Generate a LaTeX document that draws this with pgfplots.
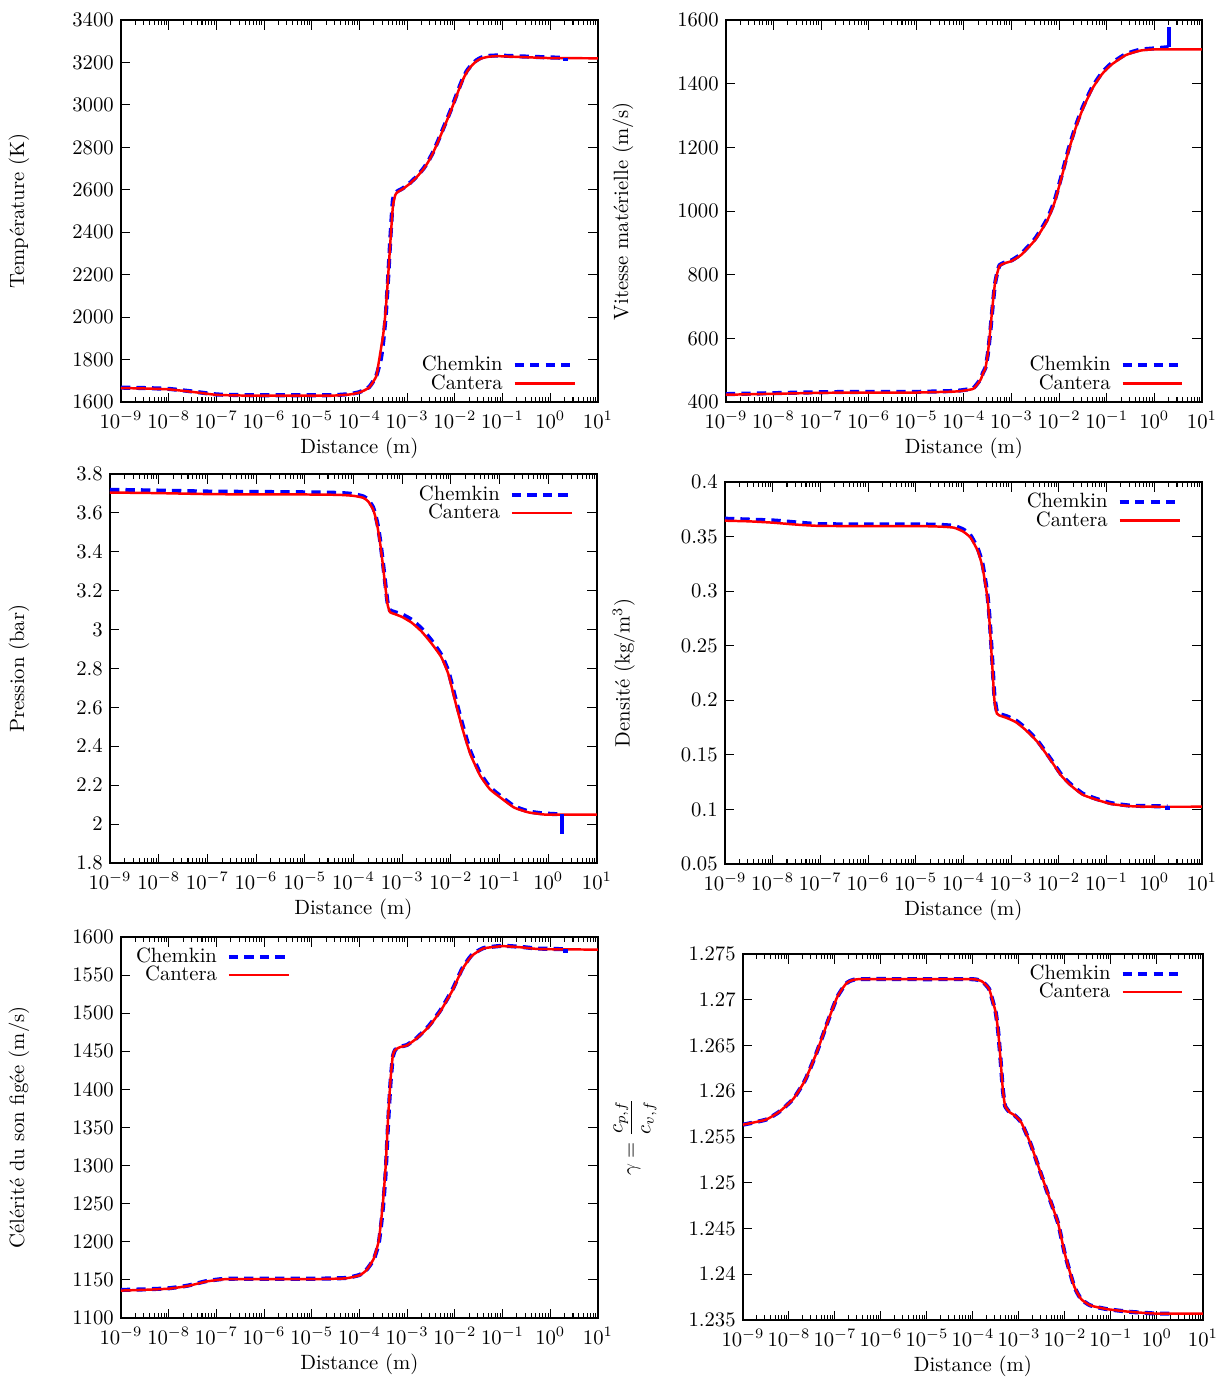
\documentclass[border=0pt]{standalone}
\usepackage{fontspec}
\usepackage{pgfplots}
\usepackage{pgfplotstable}
\pgfplotsset{compat=1.18}

% ---------- Temperature ----------
\pgfplotstableread{
lx v
-9 1668
-8.5 1666
-8 1662
-7.5 1650
-7 1636
-6.5 1633
-6 1632
-5 1632
-4.5 1633
-4.2 1638
-4.0 1647
-3.8 1670
-3.65 1722
-3.55 1805
-3.5 1890
-3.45 2005
-3.4 2180
-3.35 2380
-3.3 2550
-3.25 2585
-3.2 2594
-3.1 2606
-2.95 2631
-2.8 2663
-2.65 2703
-2.55 2738
-2.45 2781
-2.35 2832
-2.25 2886
-2.15 2940
-2.05 2996
-1.95 3057
-1.85 3115
-1.75 3160
-1.65 3189
-1.55 3210
-1.45 3223
-1.3 3231
-1.1 3233
-0.5 3228
0 3224
0.32 3222
}\TCh
\pgfplotstableread{
lx v
-9 1666
-8.5 1664
-8 1660
-7.5 1648
-7 1634
-6.5 1631
-6 1630
-5 1630
-4.5 1631
-4.2 1636
-4.0 1645
-3.8 1668
-3.65 1720
-3.6 1781
-3.5 1922
-3.45 2032
-3.4 2190
-3.35 2362
-3.3 2520
-3.25 2575
-3.2 2590
-3.1 2603
-2.95 2628
-2.8 2660
-2.65 2700
-2.55 2735
-2.45 2778
-2.35 2828
-2.25 2882
-2.15 2936
-2.05 2992
-1.95 3052
-1.85 3110
-1.75 3155
-1.65 3185
-1.55 3206
-1.45 3219
-1.3 3227
-1.1 3230
-0.5 3225
0 3221
1 3220
}\TCa
% ---------- Velocity ----------
\pgfplotstableread{
lx v
-9 425
-8 428
-7 431
-6 432
-5 432
-4.2 435
-4.0 438
-3.8 444
-3.65 472
-3.6 492
-3.55 507
-3.5 548
-3.45 615
-3.4 695
-3.35 768
-3.3 806
-3.25 830
-3.15 838
-3.0 845
-2.8 865
-2.5 914
-2.25 975
-2.1 1030
-1.95 1110
-1.8 1195
-1.65 1267
-1.5 1327
-1.3 1390
-1.1 1434
-0.9 1464
-0.6 1493
-0.3 1507
0 1511
0.3 1515
}\VCh
\pgfplotstableread{
lx v
-9 423
-8 426
-7 429
-6 430
-5 430
-4.2 433
-4.0 436
-3.8 442
-3.65 470
-3.6 490
-3.55 505
-3.5 550
-3.45 620
-3.4 700
-3.35 770
-3.3 805
-3.25 828
-3.15 836
-3.0 843
-2.8 862
-2.5 910
-2.25 970
-2.1 1025
-1.95 1105
-1.8 1190
-1.65 1262
-1.5 1322
-1.3 1385
-1.1 1430
-0.9 1460
-0.6 1490
-0.3 1504
0 1508
1 1508
}\VCa
% ---------- Pressure ----------
\pgfplotstableread{
lx v
-9 3.719
-8 3.715
-7 3.71
-6 3.708
-5 3.706
-4.3 3.703
-4.0 3.697
-3.8 3.685
-3.7 3.668
-3.6 3.63
-3.55 3.59
-3.5 3.535
-3.45 3.455
-3.4 3.355
-3.35 3.245
-3.3 3.14
-3.25 3.1
-3.15 3.09
-3.0 3.078
-2.8 3.05
-2.6 3.005
-2.4 2.945
-2.2 2.872
-2.05 2.785
-1.9 2.64
-1.75 2.5
-1.6 2.375
-1.4 2.262
-1.2 2.19
-1.0 2.148
-0.7 2.092
-0.4 2.065
-0.1 2.055
0.28 2.05
}\PCh
\pgfplotstableread{
lx v
-9 3.705
-8 3.702
-7 3.697
-6 3.695
-5 3.695
-4.3 3.693
-4.0 3.688
-3.8 3.678
-3.7 3.66
-3.6 3.62
-3.55 3.58
-3.5 3.52
-3.45 3.44
-3.4 3.34
-3.35 3.23
-3.3 3.13
-3.25 3.09
-3.15 3.08
-3.0 3.065
-2.8 3.035
-2.6 2.99
-2.4 2.93
-2.2 2.86
-2.05 2.77
-1.9 2.62
-1.75 2.48
-1.6 2.36
-1.4 2.25
-1.2 2.18
-1.0 2.14
-0.7 2.085
-0.4 2.06
-0.1 2.05
0 2.049
1 2.049
}\PCa
% ---------- Density ----------
\pgfplotstableread{
lx v
-9 0.3664
-8 0.3648
-7.5 0.3630
-7 0.3614
-6 0.3612
-5 0.3612
-4.5 0.3608
-4.2 0.3598
-4.0 0.3565
-3.85 0.351
-3.7 0.339
-3.6 0.325
-3.5 0.298
-3.45 0.274
-3.4 0.240
-3.35 0.204
-3.3 0.19
-3.25 0.1875
-3.1 0.1855
-2.9 0.1815
-2.7 0.1745
-2.45 0.163
-2.2 0.148
-1.95 0.132
-1.75 0.123
-1.5 0.1145
-1.2 0.1095
-0.9 0.1058
-0.5 0.1035
0 0.1030
0.28 0.1028
}\DCh
\pgfplotstableread{
lx v
-9 0.3646
-8.5 0.3640
-8 0.3628
-7.5 0.3610
-7 0.3598
-6 0.3597
-5 0.3597
-4.5 0.3592
-4.2 0.3582
-4.0 0.3545
-3.85 0.349
-3.7 0.337
-3.6 0.322
-3.5 0.295
-3.45 0.27
-3.4 0.235
-3.35 0.2
-3.3 0.188
-3.25 0.1862
-3.1 0.184
-2.9 0.180
-2.7 0.173
-2.45 0.162
-2.2 0.147
-1.95 0.131
-1.75 0.122
-1.5 0.1135
-1.2 0.1088
-0.9 0.1050
-0.5 0.1030
0 0.1025
1 0.1025
}\DCa
% ---------- Sound speed ----------
\pgfplotstableread{
lx v
-9 1136.8
-8.5 1137.6
-8 1139
-7.6 1142.5
-7.2 1148.5
-6.8 1151.5
-6 1151.5
-5 1151.5
-4.3 1152.5
-4.0 1156.5
-3.85 1163.5
-3.7 1177
-3.6 1197
-3.55 1220
-3.5 1250
-3.45 1292
-3.4 1355
-3.35 1408
-3.3 1443
-3.25 1452
-3.15 1456
-3.0 1458.5
-2.8 1467.5
-2.55 1483
-2.3 1504
-2.05 1531
-1.85 1558
-1.65 1576
-1.4 1585.5
-1.0 1588.5
-0.6 1587
-0.3 1585
0 1584.5
0.32 1584
}\CCh
\pgfplotstableread{
lx v
-9 1136
-8.5 1137
-8 1138.5
-7.6 1142
-7.2 1148
-6.8 1151
-6 1151
-5 1151
-4.3 1152
-4.0 1156
-3.85 1163
-3.7 1178
-3.6 1200
-3.55 1225
-3.5 1257
-3.45 1300
-3.4 1362
-3.35 1412
-3.3 1445
-3.25 1452
-3.15 1455.5
-3.0 1458
-2.8 1467
-2.55 1482
-2.3 1503
-2.05 1530
-1.85 1557
-1.65 1575
-1.4 1585
-1.0 1588
-0.6 1586.5
-0.3 1584.5
0 1584
1 1583.5
}\CCa
% ---------- Gamma ----------
\pgfplotstableread{
lx v
-9 1.25635
-8.5 1.2569
-8.2 1.2578
-7.9 1.2592
-7.65 1.2612
-7.4 1.2642
-7.15 1.2677
-6.95 1.2703
-6.75 1.2718
-6.5 1.27225
-5 1.27225
-4.0 1.27225
-3.8 1.2720
-3.65 1.2712
-3.55 1.2695
-3.5 1.2685
-3.45 1.2665
-3.4 1.2635
-3.35 1.2602
-3.3 1.2584
-3.2 1.2577
-3.1 1.2574
-2.95 1.2566
-2.75 1.2543
-2.55 1.2514
-2.35 1.2485
-2.15 1.2456
-2.0 1.2422
-1.8 1.2387
-1.65 1.2373
-1.45 1.2366
-1.1 1.2362
-0.6 1.2359
0 1.2357
0.3 1.2357
}\GCh
\pgfplotstableread{
lx v
-9 1.25635
-8.5 1.2569
-8.2 1.2578
-7.9 1.2592
-7.65 1.2612
-7.4 1.2642
-7.15 1.2677
-6.95 1.2703
-6.75 1.2718
-6.5 1.27225
-5 1.27225
-4.0 1.27225
-3.8 1.2720
-3.65 1.2712
-3.55 1.2695
-3.5 1.2685
-3.45 1.2665
-3.4 1.2635
-3.35 1.2602
-3.3 1.2584
-3.2 1.2577
-3.1 1.2574
-2.95 1.2566
-2.75 1.2543
-2.55 1.2514
-2.35 1.2485
-2.15 1.2456
-2.0 1.2422
-1.8 1.2387
-1.65 1.2373
-1.45 1.2366
-1.1 1.2362
-0.6 1.2359
0 1.2357
1 1.2357
}\GCa

\pgfplotsset{
  panelstyle/.style={
    xmin=1e-9, xmax=10, xtickten={-9,-8,...,1},
    scale only axis, anchor=south west,
    tick align=inside,
    major tick length=4.6pt, minor tick length=2.4pt,
    tick style={black, line width=0.5pt},
    axis line style={line width=0.9pt},
    scaled y ticks=false,
    yticklabel style={/pgf/number format/fixed, /pgf/number format/precision=3, /pgf/number format/1000 sep={}},
    xticklabel style={yshift=-1pt},
    xlabel={Distance (m)},
    xlabel style={at={(rel axis cs:0.5,0)}, anchor=center, yshift=-22.3pt},
    ylabel style={at={(rel axis cs:0,0.5)}, anchor=center},
    legend plot pos=right,
    legend cell align=right,
    legend style={draw=none, fill=none, nodes={inner sep=1pt}, column sep=3.8pt, row sep=-1.6pt},
  },
  chem/.style={blue, line width=2pt, dash pattern=on 4.5pt off 3pt, smooth, tension=0.3},
  cant/.style={red, line width=1.2pt, smooth, tension=0.3},
  spike/.style={blue, line width=2pt, forget plot},
}

\begin{document}
\begin{tikzpicture}
\useasboundingbox (0,0) rectangle (591.4pt,667pt);
% Panel 1
\begin{semilogxaxis}[panelstyle, at={(58.56pt,472.38pt)}, width=230.87pt, height=184.89pt,
  ymin=1600, ymax=3400, ytick={1600,1800,...,3400},
  ylabel={Température (K)}, ylabel style={yshift=49.4pt},
  legend image code/.code={\draw[#1] (0pt,0pt) -- (29pt,0pt);},
  legend style={at={(rel axis cs:1,0)}, anchor=south east, xshift=-7.1pt, yshift=1.6pt}]
\addplot[chem] table[x expr=10^\thisrow{lx}, y=v] {\TCh};
\addplot[cant] table[x expr=10^\thisrow{lx}, y=v] {\TCa};
\addplot[spike] coordinates {(2.09,3222) (2.09,3205)};
\legend{Chemkin, Cantera}
\end{semilogxaxis}
% Panel 2
\begin{semilogxaxis}[panelstyle, at={(351.38pt,472.38pt)}, width=230.38pt, height=184.89pt,
  ymin=400, ymax=1600, ytick={400,600,...,1600},
  ylabel={Vitesse matérielle (m/s)}, ylabel style={yshift=49.9pt},
  legend image code/.code={\draw[#1] (0pt,0pt) -- (29pt,0pt);},
  legend style={at={(rel axis cs:1,0)}, anchor=south east, xshift=-5.2pt, yshift=1.6pt}]
\addplot[chem] table[x expr=10^\thisrow{lx}, y=v] {\VCh};
\addplot[cant] table[x expr=10^\thisrow{lx}, y=v] {\VCa};
\addplot[spike] coordinates {(2.0,1515) (2.0,1577)};
\legend{Chemkin, Cantera}
\end{semilogxaxis}
% Panel 3
\begin{semilogxaxis}[panelstyle, at={(53.24pt,249.26pt)}, width=235.71pt, height=188.28pt,
  ymin=1.8, ymax=3.8, ytick={1.8,2,2.2,2.4,2.6,2.8,3,3.2,3.4,3.6,3.8},
  ylabel={Pression (bar)}, ylabel style={yshift=44pt},
  legend image code/.code={\draw[#1] (0pt,0pt) -- (29pt,0pt);},
  legend style={at={(rel axis cs:1,1)}, anchor=north east, xshift=-8pt, yshift=-2.5pt}]
\addplot[chem] table[x expr=10^\thisrow{lx}, y=v] {\PCh};
\addplot[cant] table[x expr=10^\thisrow{lx}, y=v] {\PCa};
\addplot[spike] coordinates {(1.9,2.05) (1.9,1.95)};
\legend{Chemkin, Cantera}
\end{semilogxaxis}
% Panel 4
\begin{semilogxaxis}[panelstyle, at={(350.9pt,248.78pt)}, width=230.87pt, height=184.89pt,
  ymin=0.05, ymax=0.4, ytick={0.05,0.1,0.15,0.2,0.25,0.3,0.35,0.4},
  ylabel={Densité (kg/m$^3$)}, ylabel style={yshift=48.9pt},
  legend image code/.code={\draw[#1] (0pt,0pt) -- (29pt,0pt);},
  legend style={at={(rel axis cs:1,1)}, anchor=north east, xshift=-6.6pt, yshift=-2.3pt}]
\addplot[chem] table[x expr=10^\thisrow{lx}, y=v] {\DCh};
\addplot[cant] table[x expr=10^\thisrow{lx}, y=v] {\DCa};
\addplot[spike] coordinates {(1.9,0.1028) (1.9,0.0994)};
\legend{Chemkin, Cantera}
\end{semilogxaxis}
% Panel 5
\begin{semilogxaxis}[panelstyle, at={(58.56pt,29.04pt)}, width=230.87pt, height=184.4pt,
  ymin=1100, ymax=1600, ytick={1100,1150,...,1600},
  ylabel={Célérité du son figée (m/s)}, ylabel style={yshift=49.4pt},
  legend image code/.code={\draw[#1] (0pt,0pt) -- (29pt,0pt);},
  legend style={at={(rel axis cs:0,1)}, anchor=north west, xshift=3.1pt, yshift=-2pt}]
\addplot[chem] table[x expr=10^\thisrow{lx}, y=v] {\CCh};
\addplot[cant] table[x expr=10^\thisrow{lx}, y=v] {\CCa};
\addplot[spike] coordinates {(2.09,1584) (2.09,1579)};
\legend{Chemkin, Cantera}
\end{semilogxaxis}
% Panel 6
\begin{semilogxaxis}[panelstyle, at={(359.61pt,28.07pt)}, width=222.64pt, height=177.14pt,
  ymin=1.235, ymax=1.275, ytick={1.235,1.24,1.245,1.25,1.255,1.26,1.265,1.27,1.275},
  ylabel={$\displaystyle\gamma=\frac{c_{p,f}}{c_{v,f}}$}, ylabel style={yshift=52.3pt},
  legend image code/.code={\draw[#1] (0pt,0pt) -- (29pt,0pt);},
  legend style={at={(rel axis cs:1,1)}, anchor=north east, xshift=-5.7pt, yshift=-2pt}]
\addplot[chem] table[x expr=10^\thisrow{lx}, y=v] {\GCh};
\addplot[cant] table[x expr=10^\thisrow{lx}, y=v] {\GCa};
\legend{Chemkin, Cantera}
\end{semilogxaxis}
\end{tikzpicture}
\end{document}
